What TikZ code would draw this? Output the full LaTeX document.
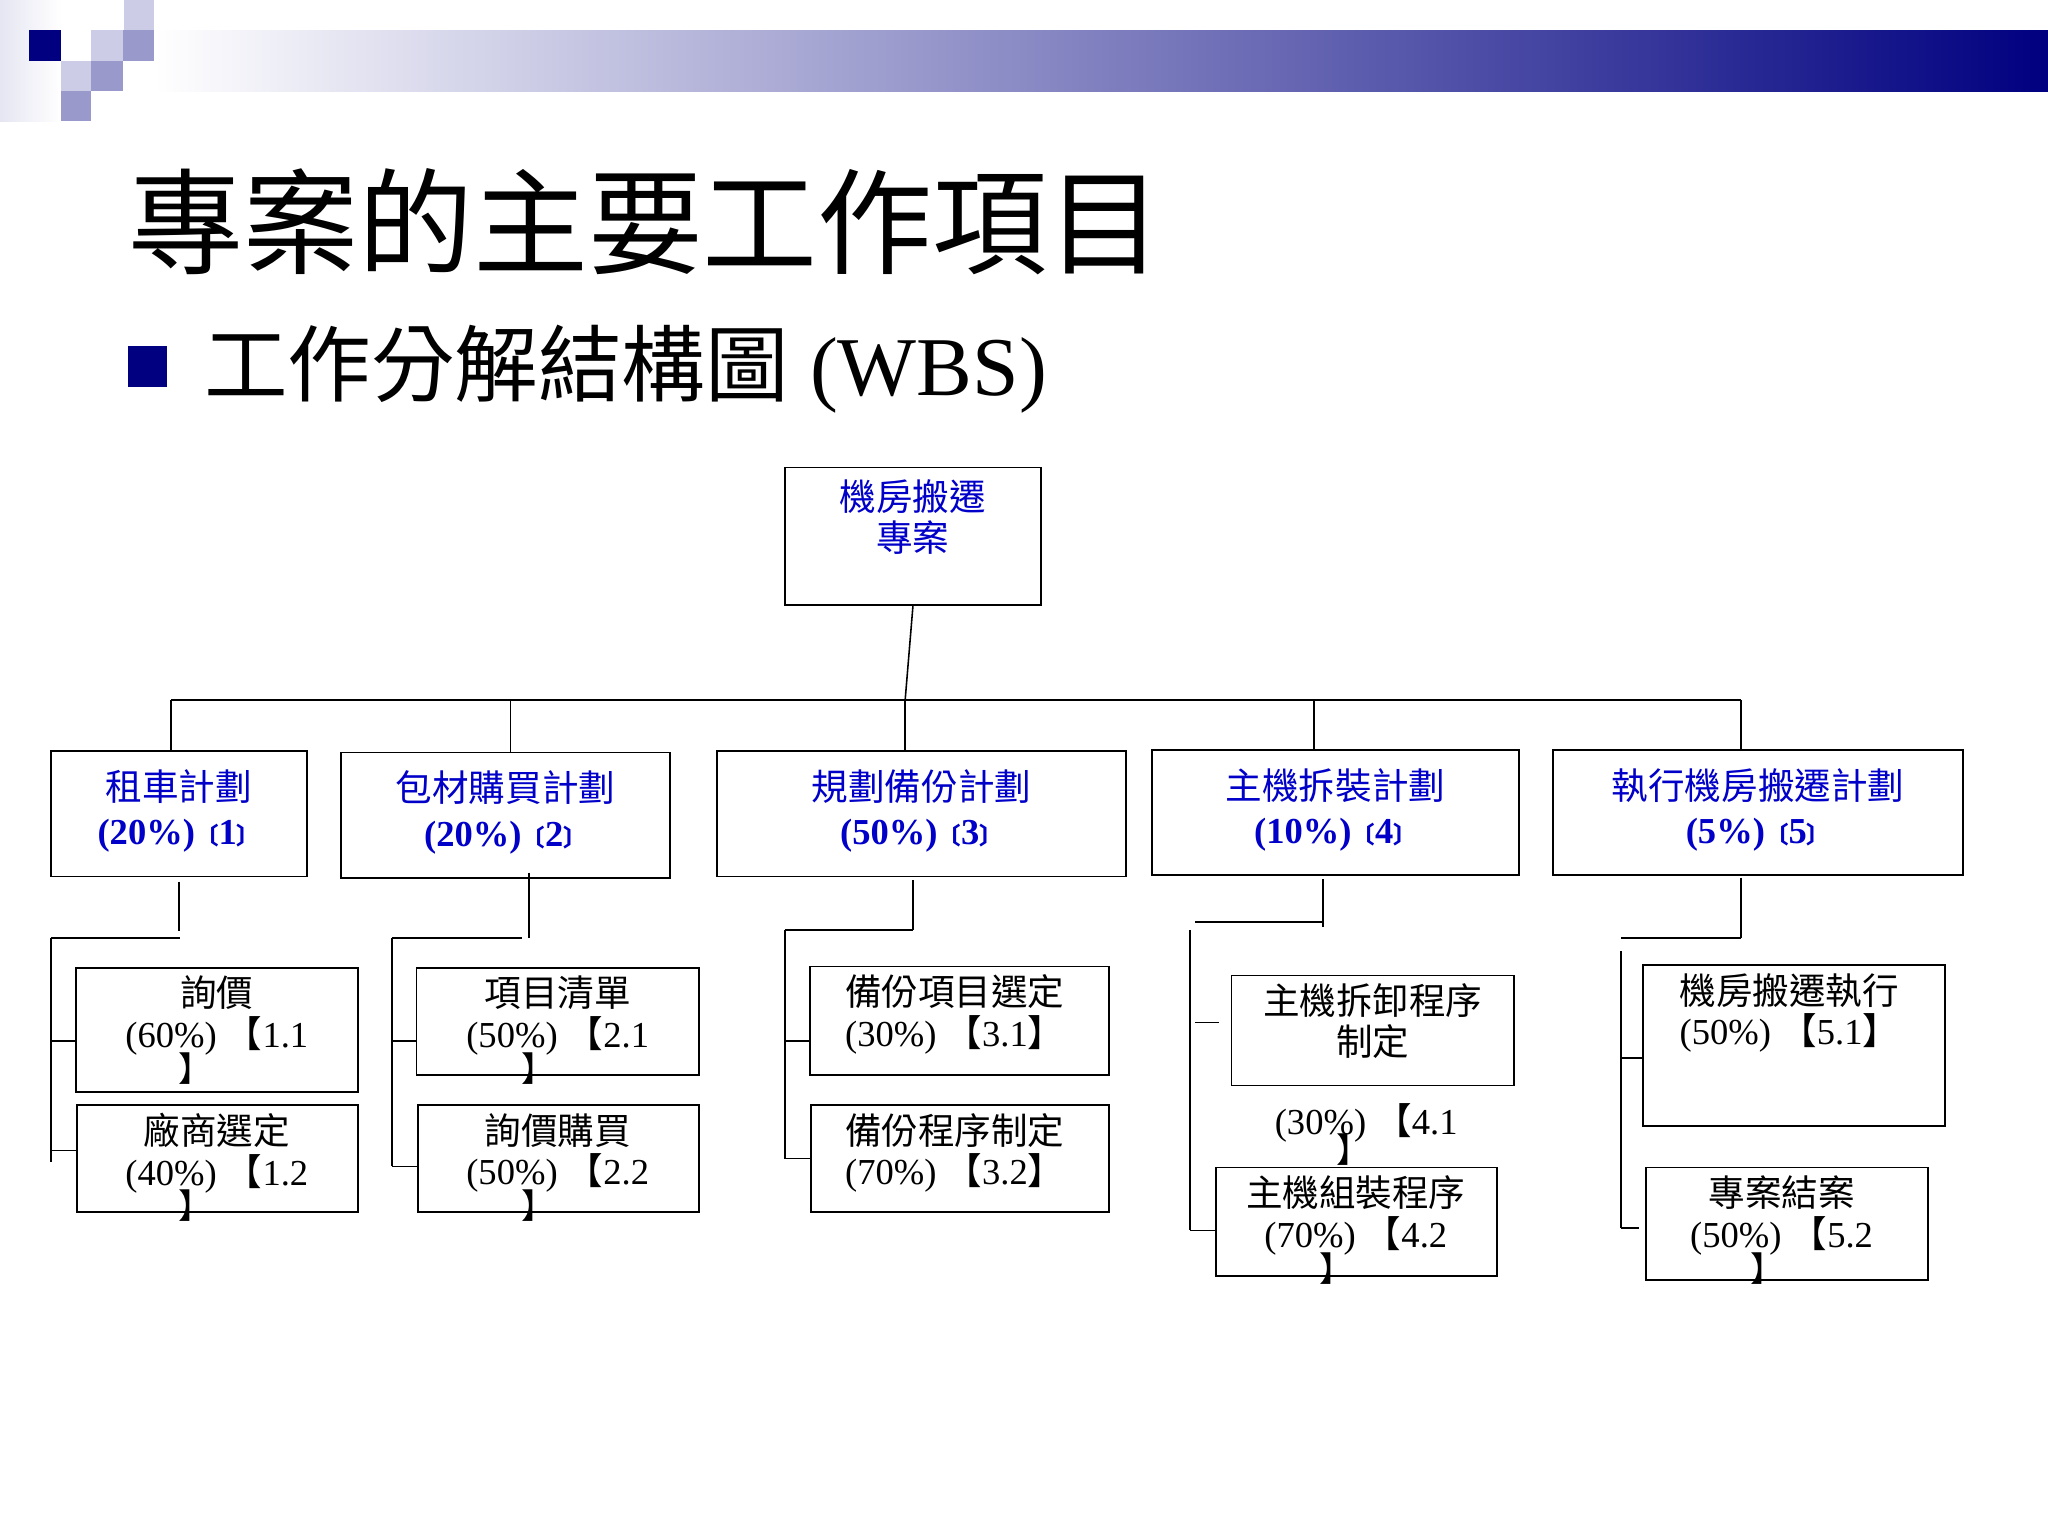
\documentclass[tikz,border=0pt]{standalone}
\usepackage{fontspec}
\setmainfont{Liberation Serif}
\newfontfamily\cjk{Noto Sans CJK TC}
\definecolor{navy}{RGB}{0,0,128}
\definecolor{lav}{RGB}{204,204,230}
\definecolor{lavm}{RGB}{153,153,204}
\definecolor{tblue}{RGB}{0,0,200}
\begin{document}
\begin{tikzpicture}[x=1pt,y=-1pt,
 bx/.style={draw,line width=1.2pt},
 ln/.style={line width=1.2pt},
 lbl/.style={font=\fontsize{28}{31}\selectfont,align=center,inner sep=0pt},
 l1/.style={lbl,text=tblue}]
\useasboundingbox (0,0) rectangle (1568,1176);
\fill[white] (0,0) rectangle (1568,1176);
% header
\shade[left color=white,right color=navy] (118,23) rectangle (1568,70);
\shade[left color=lav!50, right color=white] (0,0) rectangle (47,93);
\fill[navy] (22,23) rectangle (47,47);
\fill[lav] (95,0) rectangle (118,23);
\fill[lav] (70,23) rectangle (94,47);
\fill[lavm] (94,23) rectangle (118,47);
\fill[lav] (47,47) rectangle (70,70);
\fill[lavm] (70,47) rectangle (94,70);
\fill[lavm] (47,70) rectangle (70,93);
% title
\node[anchor=west,inner sep=0pt,font=\cjk\fontsize{88}{90}\selectfont] (title) at (98,170) {專案的主要工作項目};
\fill[navy] (98,265) rectangle (128,296);
\node[anchor=west,inner sep=0pt,font=\fontsize{64}{66}\selectfont] (sub) at (156,283) {{\cjk 工作分解結構圖} (WBS)};
% root
\node[bx,minimum width=196,minimum height=105] (root) at (699,410.5) {};
\node[l1,font=\cjk\fontsize{28}{31}\selectfont] at (699,396) {機房搬遷\\專案};
% level1
\newcommand\Lone[6]{%
 \node[bx,minimum width=#3,minimum height=96] (#1) at (#2,#4) {};
 \node[l1,font=\fontsize{28}{34}\selectfont] at (#2,#4-2) {{\cjk #5}\\\textbf{#6}};}
\newcommand\smbr[1]{{\cjk\fontsize{18}{20}\selectfont 〔}#1{\cjk\fontsize{18}{20}\selectfont 〕}}
\Lone{a}{137}{196}{623}{租車計劃}{(20\%)\smbr{1}}
\Lone{b}{387}{252}{624}{包材購買計劃}{(20\%)\smbr{2}}
\Lone{c}{705.5}{313}{623}{規劃備份計劃}{(50\%)\smbr{3}}
\Lone{d}{1022.5}{281}{622}{主機拆裝計劃}{(10\%)\smbr{4}}
\Lone{e}{1346}{314}{622}{執行機房搬遷計劃}{(5\%)\smbr{5}}
% tree
\draw[ln] (root.south) -- (693,536);
\draw[ln] (131,536) -- (1333,536);
\draw[ln] (131,536) -- (131,575);
\draw[ln] (391,536) -- (391,576);
\draw[ln] (693,536) -- (693,575);
\draw[ln] (1006,536) -- (1006,574);
\draw[ln] (1333,536) -- (1333,574);
% level 2 boxes
\newcommand\Btwo[4]{\node[bx,minimum width=#3,minimum height=#4] (#1) at (#2) {};}
\Btwo{a1}{166,788.5}{216}{95}
\Btwo{a2}{166.5,887}{215}{82}
\Btwo{b1}{427,782}{216}{82}
\Btwo{b2}{427.5,887}{215}{82}
\Btwo{c1}{734.5,781.5}{229}{83}
\Btwo{c2}{735,887}{228}{82}
\Btwo{d1}{1051,789}{216}{84}
\Btwo{d2}{1038.5,935.5}{215}{83}
\Btwo{e1}{1373.5,800.5}{231}{123}
\Btwo{e2}{1368,937}{216}{86}
\newcommand\Tx[3]{\node[lbl,anchor=north] at (#1,#2) {#3};}
\newcommand\Rb[2]{\node[lbl,anchor=north,font=\cjk\fontsize{26}{28}\selectfont] at (#1,#2) {】};}
\Tx{166}{747}{{\cjk 詢價}\\(60\%) {\cjk 【}1.1}\Rb{150}{806}
\Tx{166}{852}{{\cjk 廠商選定}\\(40\%) {\cjk 【}1.2}\Rb{150}{911}
\Tx{427}{747}{{\cjk 項目清單}\\(50\%) {\cjk 【}2.1}\Rb{412}{806}
\Tx{427}{852}{{\cjk 詢價購買}\\(50\%) {\cjk 【}2.2}\Rb{412}{911}
\Tx{731}{746}{{\cjk 備份項目選定}\\(30\%) {\cjk 【}3.1{\cjk 】}}
\Tx{731}{852}{{\cjk 備份程序制定}\\(70\%) {\cjk 【}3.2{\cjk 】}}
\Tx{1051}{753}{{\cjk 主機拆卸程序}\\{\cjk 制定}}
\Tx{1046}{845}{(30\%) {\cjk 【}4.1}\Rb{1036}{868}
\Tx{1038}{900}{{\cjk 主機組裝程序}\\(70\%) {\cjk 【}4.2}\Rb{1023}{959}
\Tx{1370}{745}{{\cjk 機房搬遷執行}\\(50\%) {\cjk 【}5.1{\cjk 】}}
\Tx{1364}{900}{{\cjk 專案結案}\\(50\%) {\cjk 【}5.2}\Rb{1353}{959}
% group connectors
\draw[ln] (137,675) -- (137,713); \draw[ln] (39,718) -- (138,718); \draw[ln] (39,718) -- (39,890);
\draw[ln] (39,797) -- (58,797); \draw[ln] (39,881) -- (59,881);
\draw[ln] (405,668) -- (405,718); \draw[ln] (300,718) -- (400,718); \draw[ln] (300,718) -- (300,893);
\draw[ln] (300,797) -- (319,797); \draw[ln] (300,893) -- (320,893);
\draw[ln] (699,674) -- (699,712); \draw[ln] (601,712) -- (699,712); \draw[ln] (601,712) -- (601,887);
\draw[ln] (601,797) -- (620,797); \draw[ln] (601,887) -- (621,887);
\draw[ln] (1013,673) -- (1013,710); \draw[ln] (915,706) -- (1013,706); \draw[ln] (911,712) -- (911,942);
\draw[ln] (915,783) -- (933,783); \draw[ln] (911,942) -- (931,942);
\draw[ln] (1333,672) -- (1333,718); \draw[ln] (1241,718) -- (1333,718); \draw[ln] (1241,728) -- (1241,940);
\draw[ln] (1241,810) -- (1258,810); \draw[ln] (1241,940) -- (1255,940);
\end{tikzpicture}
\end{document}
